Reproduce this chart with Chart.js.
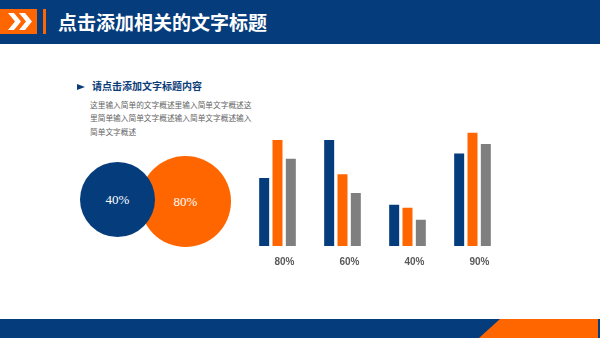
<!DOCTYPE html>
<html>
<head>
<meta charset="utf-8">
<script src="https://cdn.jsdelivr.net/npm/chart.js@4.4.1/dist/chart.umd.min.js"></script>
<style>
  html, body { margin: 0; padding: 0; }
  body { width: 600px; height: 338px; position: relative; overflow: hidden; background: #fff;
         font-family: "Noto Sans CJK SC", sans-serif; }
  .topbar { position: absolute; left: 0; top: 0; width: 600px; height: 44px; background: #053c7b; }
  .tag { position: absolute; left: 0; top: 9px; width: 37px; height: 25px; background: #ff6600; }
  .tag svg { position: absolute; left: 0; top: 0; }
  .stick { position: absolute; left: 43px; top: 9px; width: 3px; height: 25px; background: #ff6600; }
  .title { position: absolute; left: 58px; top: 8px; color: #fff; font-size: 19px; font-weight: 700; line-height: 28px; }
  .subhead { position: absolute; left: 77px; top: 78px; color: #0b3c78; font-size: 10px; font-weight: 700; line-height: 16px; }
  .subhead:before { content: ""; display: inline-block; width: 0; height: 0; border-top: 3.5px solid transparent;
         border-bottom: 3.5px solid transparent; border-left: 8px solid #0b3c78; margin-right: 7px; vertical-align: 0px; }
  .body { position: absolute; left: 90px; top: 98px; width: 170px; color: #666; font-size: 7.7px; line-height: 13.3px; }
  .dot { position: absolute; border-radius: 50%; color: #fff; text-align: center;
         font-family: "Liberation Serif", serif; font-size: 13px; font-weight: normal; }
  .footbar { position: absolute; left: 0; top: 319px; width: 600px; height: 19px; background: #053c7b; }
  .footbar svg { position: absolute; left: 0; top: 0; }
  .chartbox { position: absolute; left: 245px; top: 125px; width: 260px; height: 153px; }
</style>
</head>
<body>
<div class="topbar"></div>
<div class="tag">
  <svg width="37" height="25">
    <polygon points="8,4 14,4 21,12.5 14,21 8,21 15,12.5" fill="#fff"/>
    <polygon points="19,4 25,4 32,12.5 25,21 19,21 26,12.5" fill="#fff"/>
  </svg>
</div>
<div class="stick"></div>
<div class="title">点击添加相关的文字标题</div>

<div class="subhead">请点击添加文字标题内容</div>
<div class="body">这里输入简单的文字概述里输入简单文字概述这<br>里简单输入简单文字概述输入简单文字概述输入<br>简单文字概述</div>

<div id="dots"></div>

<div class="chartbox">
  <canvas id="bars" width="260" height="153"></canvas>
</div>

<div class="footbar">
  <svg width="600" height="19">
    <polygon points="500,0 598,0 598,19 479,19" fill="#ff6600"/>
  </svg>
</div>

<script>
// categories along the bottom of the bar chart
const categories = ['80%', '60%', '40%', '90%'];
// three series per category
const blueValues = [3.0, 4.67, 1.82, 4.07];
const orangeValues = [4.67, 3.16, 1.68, 5.0];
const grayValues = [3.84, 2.34, 1.16, 4.49];

// the two overlapping circles
const circleLabels = ['80%', '40%'];

const BLUE = '#053c7b';
const ORANGE = '#ff6600';
const GRAY = '#7f7f7f';

// circles: orange one sits behind the blue one
const dots = document.getElementById('dots');
const dotSpecs = [
  { left: 140, top: 156, size: 91, color: ORANGE },
  { left: 80, top: 162, size: 75, color: BLUE }
];
dotSpecs.forEach((d, i) => {
  const el = document.createElement('div');
  el.className = 'dot';
  el.style.left = d.left + 'px';
  el.style.top = d.top + 'px';
  el.style.width = d.size + 'px';
  el.style.height = d.size + 'px';
  el.style.lineHeight = d.size + 'px';
  el.style.background = d.color;
  el.textContent = circleLabels[i];
  dots.appendChild(el);
});

const ctx = document.getElementById('bars').getContext('2d');
const chart = new Chart(ctx, {
  type: 'bar',
  data: {
    labels: categories,
    datasets: [
      { data: blueValues, backgroundColor: BLUE },
      { data: orangeValues, backgroundColor: ORANGE },
      { data: grayValues, backgroundColor: GRAY }
    ]
  },
  options: {
    responsive: false,
    animation: false,
    categoryPercentage: 0.615,
    barPercentage: 0.75,
    layout: { padding: { top: 7.5, left: 0, right: 0, bottom: 0 } },
    plugins: { legend: { display: false }, tooltip: { enabled: false } },
    scales: {
      y: { display: false, min: 0, max: 5 },
      x: {
        grid: { display: false, drawTicks: false },
        border: { display: false },
        ticks: {
          padding: 10,
          labelOffset: 7,
          color: '#595959',
          font: { family: 'Liberation Sans', size: 10, weight: 'bold' }
        }
      }
    }
  }
});
</script>
</body>
</html>
